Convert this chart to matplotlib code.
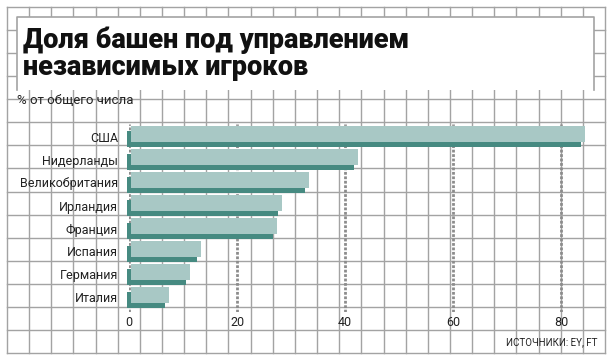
import matplotlib
matplotlib.use("Agg")
import numpy as np
import matplotlib.pyplot as plt
import matplotlib.transforms as mtransforms
from matplotlib.patches import Rectangle

# data
countries = ["США", "Нидерланды", "Великобритания", "Ирландия",
             "Франция", "Испания", "Германия", "Италия"]
shares = [84, 42, 33, 28, 27, 13, 11, 7]
xticks = [0, 20, 40, 60, 80]

title = "Доля башен под управлением\nнезависимых игроков"
subtitle = "% от общего числа"
source = "ИСТОЧНИКИ: EY, FT"

FACE = "#a8c8c5"
SIDE = "#468a81"
GRID = "#a3a3a3"
W, H = 613, 362

plt.rcParams["font.family"] = ["Roboto", "DejaVu Sans"]

fig = plt.figure(figsize=(W / 100, H / 100), dpi=100)
fig.patch.set_facecolor("white")

# background paper grid, in pixel coordinates
bg = fig.add_axes([0, 0, 1, 1], zorder=0)
bg.set_xlim(0, W)
bg.set_ylim(H, 0)
bg.axis("off")
gx = np.linspace(7, 605, 28)
gy = np.linspace(7, 353, 16)
for x in gx:
    bg.plot([x, x], [7, 353], color=GRID, lw=1.0)
for y in gy:
    bg.plot([7, 605], [y, y], color=GRID, lw=1.0)

# header box
bg.add_patch(Rectangle((17, 17), 577, 73, facecolor="white", edgecolor="none", zorder=3))
bg.plot([17, 17, 594, 594], [90, 17, 17, 90], color=GRID, lw=1.2, zorder=4)
bg.text(23, 54, title, fontsize=19.5, fontweight="black",
        va="center", ha="left", linespacing=1.02, zorder=5, color="#111111")
bg.text(17, 101, subtitle, fontsize=9.5, va="center", ha="left", color="#222222")
bg.text(597, 342, source, fontsize=7, va="center", ha="right", color="#222222")

# chart
x0, x1 = 129, 605
y0, y1 = 124, 312
scale = 108.1 / 20
ax = fig.add_axes([x0 / W, 1 - y1 / H, (x1 - x0) / W, (y1 - y0) / H], zorder=2)
ax.patch.set_alpha(0)
ax.set_xlim(0, (x1 - x0) / scale)
ax.set_ylim((y1 - 136.5) / 23, (y0 - 136.5) / 23)
for s in ax.spines.values():
    s.set_visible(False)

ypos = np.arange(len(countries))
side_tr = ax.transData + mtransforms.ScaledTranslation(-2 / 100, -2.5 / 100, fig.dpi_scale_trans)
face_tr = ax.transData + mtransforms.ScaledTranslation(2 / 100, 2.5 / 100, fig.dpi_scale_trans)
ax.barh(ypos, shares, height=0.7, color=SIDE, transform=side_tr, zorder=3, clip_on=False)
ax.barh(ypos, shares, height=0.7, color=FACE, transform=face_tr, zorder=4, clip_on=False)

for t in xticks:
    ax.axvline(t, color="#8c8c8c", lw=2, ls=(0, (1, 0.6)), zorder=1)

ax.set_xticks(xticks)
ax.set_yticks(ypos)
ax.set_yticklabels(countries)
ax.tick_params(axis="both", length=0, labelsize=9, labelcolor="#222222")
ax.tick_params(axis="y", pad=8)
ax.tick_params(axis="x", pad=3)

fig.savefig("out.png", dpi=100, facecolor="white")
